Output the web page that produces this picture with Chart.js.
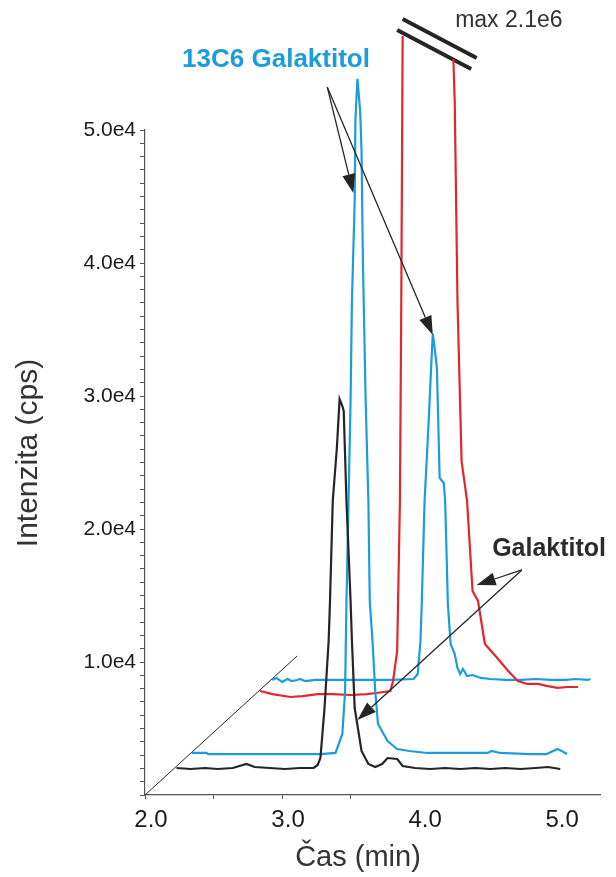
<!DOCTYPE html>
<html>
<head>
<meta charset="utf-8">
<script src="https://cdn.jsdelivr.net/npm/chart.js@4.4.1/dist/chart.umd.min.js"></script>
<style>
  html, body { margin: 0; padding: 0; background: #fff; }
  canvas { display: block; }
</style>
</head>
<body>
<canvas id="chromChart" width="616" height="877"></canvas>
<script>
// Galaktitol, first trace (black, front)
const galFrontTime = [2.23, 2.33, 2.44, 2.53, 2.64, 2.74, 2.80, 2.91, 3.02, 3.13, 3.23, 3.26, 3.28, 3.31, 3.34, 3.35, 3.37, 3.40, 3.42, 3.44, 3.45, 3.47, 3.50, 3.51, 3.53, 3.58, 3.63, 3.68, 3.73, 3.77, 3.84, 3.88, 3.97, 4.08, 4.19, 4.30, 4.41, 4.52, 4.63, 4.74, 4.85, 4.94, 5.03];
const galFrontCps = [2030, 1955, 2030, 1955, 2030, 2330, 2105, 2030, 1955, 2030, 2030, 2255, 2780, 6540, 11580, 14590, 22110, 26090, 29775, 29250, 28870, 22110, 14590, 11580, 6540, 3310, 2330, 2105, 2330, 2780, 2710, 2180, 2030, 1955, 2030, 1955, 2030, 1955, 2030, 1955, 2030, 2105, 1955];

// 13C6 Galaktitol, first trace (blue, front)
const c13FrontTime = [2.34, 2.45, 2.46, 2.69, 2.99, 3.28, 3.39, 3.44, 3.46, 3.47, 3.50, 3.51, 3.53, 3.535, 3.55, 3.57, 3.58, 3.59, 3.61, 3.63, 3.64, 3.66, 3.68, 3.70, 3.77, 3.84, 3.93, 4.06, 4.23, 4.37, 4.50, 4.53, 4.59, 4.81, 4.93, 5.01, 5.04, 5.08];
const c13FrontCps = [3160, 3160, 3080, 3080, 3080, 3080, 3160, 4590, 7820, 14590, 29620, 37140, 44660, 50680, 53840, 51430, 48420, 40150, 29620, 22110, 14590, 11580, 7820, 5340, 4060, 3460, 3310, 3160, 3160, 3160, 3160, 3310, 3160, 3080, 3080, 3460, 3310, 3080];

// Galaktitol, second trace (red) - peak off scale (max 2.1e6)
const galBackTime = [2.84, 2.93, 3.06, 3.15, 3.26, 3.37, 3.50, 3.62, 3.69, 3.79, 3.81, 3.84, 3.86, 3.87, 3.88, 4.05, 4.25, 4.26, 4.28, 4.31, 4.35, 4.39, 4.43, 4.48, 4.57, 4.65, 4.72, 4.79, 4.87, 4.93, 5.01, 5.08, 5.16];
const galBackCps = [7820, 7590, 7370, 7440, 7590, 7590, 7520, 7590, 7670, 7820, 8570, 10830, 22110, 37140, 57070, null, 55340, 52180, 37140, 25110, 22110, 15340, 14590, 11350, 10300, 9320, 8570, 8350, 8350, 8200, 8050, 8120, 8120];

// 13C6 Galaktitol, second trace (blue, back)
const c13BackTime = [2.93, 2.96, 3.00, 3.04, 3.07, 3.11, 3.13, 3.17, 3.24, 3.37, 3.50, 3.62, 3.79, 3.96, 3.99, 4.01, 4.02, 4.04, 4.07, 4.09, 4.10, 4.11, 4.13, 4.15, 4.18, 4.19, 4.20, 4.21, 4.23, 4.26, 4.28, 4.30, 4.32, 4.35, 4.39, 4.45, 4.52, 4.63, 4.74, 4.85, 4.96, 5.07, 5.14, 5.23, 5.25];
const c13BackCps = [8650, 8800, 8500, 8720, 8570, 8650, 8720, 8570, 8650, 8650, 8650, 8650, 8650, 8720, 9100, 11580, 14590, 22110, 28120, 32630, 34660, 33910, 32100, 23840, 23460, 22110, 18350, 14360, 11350, 10600, 9550, 9100, 9470, 8950, 9020, 8800, 8720, 8650, 8650, 8720, 8650, 8650, 8720, 8650, 8720];

// depth axis and axis break
const depthAxisTime = [2.0, 3.11];
const depthAxisCps = [0, 10450];
const breakTime = [3.84, 4.38, 4.40, 3.88, 4.42];
const breakCps = [57520, 54590, null, 58350, 55410];

const xTicks = [2.0, 3.0, 4.0, 5.0];
const yTicks = [10000, 20000, 30000, 40000, 50000];

const BLUE = '#1b9ddb';
const RED = '#e3262b';
const INK = '#252525';
const FONT = '"Liberation Sans", Arial, sans-serif';

function zip(t, v) {
    return t.map((x, i) => ({ x: x, y: v[i] }));
}

function trace(label, t, v, color, width) {
    return {
        label: label,
        data: zip(t, v),
        borderColor: color,
        borderWidth: width,
        pointRadius: 0,
        tension: 0,
        spanGaps: false,
        clip: false,
        fill: false
    };
}

// arrows [fromTime, fromCps, toTime, toCps]
const arrows = [
    [3.33, 53230, 3.52, 45260],
    [3.33, 53230, 4.10, 34590],
    [4.75, 16920, 4.42, 15790],
    [4.75, 16920, 3.55, 5640]
];

const annotations = {
    id: 'annotations',
    afterDatasetsDraw(chart) {
        const ctx = chart.ctx;
        const xs = chart.scales.x, ys = chart.scales.y;
        ctx.save();
        ctx.strokeStyle = INK;
        ctx.fillStyle = INK;
        ctx.lineWidth = 1.3;
        arrows.forEach(a => {
            const x1 = xs.getPixelForValue(a[0]), y1 = ys.getPixelForValue(a[1]);
            const x2 = xs.getPixelForValue(a[2]), y2 = ys.getPixelForValue(a[3]);
            const ang = Math.atan2(y2 - y1, x2 - x1);
            const len = 19, half = 6.5;
            const bx = x2 - len * Math.cos(ang), by = y2 - len * Math.sin(ang);
            ctx.beginPath();
            ctx.moveTo(x1, y1);
            ctx.lineTo(bx, by);
            ctx.stroke();
            ctx.beginPath();
            ctx.moveTo(x2, y2);
            ctx.lineTo(bx + half * Math.sin(ang), by - half * Math.cos(ang));
            ctx.lineTo(bx - half * Math.sin(ang), by + half * Math.cos(ang));
            ctx.closePath();
            ctx.fill();
        });

        ctx.textBaseline = 'middle';
        ctx.textAlign = 'center';
        ctx.fillStyle = BLUE;
        ctx.font = 'bold 26px ' + FONT;
        ctx.fillText('13C6 Galaktitol', xs.getPixelForValue(2.956), ys.getPixelForValue(55260));

        ctx.textAlign = 'left';
        ctx.fillStyle = '#2b2b2b';
        ctx.font = 'bold 25px ' + FONT;
        ctx.fillText('Galaktitol', xs.getPixelForValue(4.533), ys.getPixelForValue(18500));

        ctx.fillStyle = '#333';
        ctx.font = '23px ' + FONT;
        ctx.fillText('max 2.1e6', xs.getPixelForValue(4.263), ys.getPixelForValue(58200));

        // axis titles
        ctx.fillStyle = '#333';
        ctx.font = '29px ' + FONT;
        ctx.textAlign = 'center';
        ctx.fillText('Čas (min)', 358, 858);
        ctx.font = '30px ' + FONT;
        ctx.translate(29, 453);
        ctx.rotate(-Math.PI / 2);
        ctx.fillText('Intenzita (cps)', 0, 0);
        ctx.restore();
    }
};

new Chart(document.getElementById('chromChart'), {
    type: 'line',
    data: {
        datasets: [
            trace('Galaktitol', galFrontTime, galFrontCps, INK, 2.2),
            trace('13C6 Galaktitol', c13FrontTime, c13FrontCps, BLUE, 2.2),
            trace('Galaktitol 2', galBackTime, galBackCps, RED, 2.2),
            trace('13C6 Galaktitol 2', c13BackTime, c13BackCps, BLUE, 2.2),
            trace('depth', depthAxisTime, depthAxisCps, INK, 1),
            trace('break', breakTime, breakCps, INK, 4)
        ]
    },
    options: {
        responsive: false,
        animation: false,
        layout: { padding: { top: 130, right: 16, left: 0, bottom: 0 } },
        plugins: {
            legend: { display: false },
            tooltip: { enabled: false }
        },
        scales: {
            x: {
                type: 'linear',
                min: 2.0,
                max: 5.32,
                afterFit(scale) { scale.height = 82; },
                afterBuildTicks(scale) {
                    scale.ticks = [2.0, 2.5, 3.0, 3.5, 4.0, 4.5, 5.0].map(v => ({ value: v }));
                },
                border: { display: true, color: '#555', width: 1.2 },
                grid: {
                    drawOnChartArea: false,
                    tickLength: 4,
                    color: ctx => (ctx.tick && ctx.tick.value > 3.5) ? 'rgba(0,0,0,0)' : '#555'
                },
                ticks: {
                    color: '#1a1a1a',
                    font: { family: FONT, size: 24 },
                    padding: 7,
                    labelOffset: 6,
                    maxRotation: 0,
                    autoSkip: false,
                    callback: v => xTicks.includes(v) ? v.toFixed(1) : ''
                }
            },
            y: {
                type: 'linear',
                min: 0,
                max: 50000,
                afterFit(scale) { scale.width = 145; },
                border: { display: true, color: '#555', width: 1.2 },
                grid: {
                    drawOnChartArea: false,
                    tickLength: 5,
                    color: '#555'
                },
                ticks: {
                    stepSize: 1000,
                    autoSkip: false,
                    color: '#1a1a1a',
                    font: { family: FONT, size: 21 },
                    padding: 4,
                    callback: v => yTicks.includes(v) ? (v / 10000).toFixed(1) + 'e4' : ''
                }
            }
        }
    },
    plugins: [annotations]
});
</script>
</body>
</html>
